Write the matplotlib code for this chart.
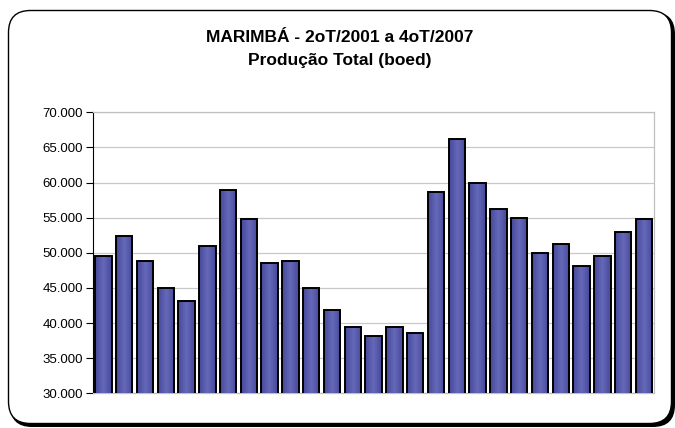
import numpy as np
import matplotlib
matplotlib.use("Agg")
from matplotlib import pyplot as plt
from matplotlib.patches import FancyBboxPatch
from matplotlib.colors import LinearSegmentedColormap
from matplotlib.ticker import FuncFormatter

# producao trimestral total, 2oT/2001 a 4oT/2007 (boed)
trimestres = ["2T01", "3T01", "4T01",
              "1T02", "2T02", "3T02", "4T02",
              "1T03", "2T03", "3T03", "4T03",
              "1T04", "2T04", "3T04", "4T04",
              "1T05", "2T05", "3T05", "4T05",
              "1T06", "2T06", "3T06", "4T06",
              "1T07", "2T07", "3T07", "4T07"]
producao = [49500, 52400, 48800, 45000, 43100, 51000, 59000, 54800, 48600,
            48800, 45000, 41900, 39500, 38100, 39500, 38600, 58600, 66200,
            60000, 56200, 55000, 50000, 51200, 48100, 49500, 52900, 54800]
yticks = [30000, 35000, 40000, 45000, 50000, 55000, 60000, 65000, 70000]


def main():
    plt.rcParams['font.family'] = ['Liberation Sans', 'DejaVu Sans']
    W, H = 675.0, 428.0
    fig = plt.figure(figsize=(W / 100, H / 100), dpi=100)

    # eixo de fundo em pixels, para a moldura arredondada
    bg = fig.add_axes([0, 0, 1, 1])
    bg.set_xlim(0, W)
    bg.set_ylim(H, 0)
    bg.axis('off')
    shadow = FancyBboxPatch((10, 12), 665, 415, boxstyle="round,pad=0,rounding_size=22",
                            facecolor='black', edgecolor='black', lw=0)
    frame = FancyBboxPatch((8.5, 10.5), 663, 413, boxstyle="round,pad=0,rounding_size=22",
                           facecolor='white', edgecolor='black', lw=1.0)
    bg.add_patch(shadow)
    bg.add_patch(frame)

    ax = fig.add_axes([93 / W, 1 - 393.3 / H, (654.3 - 93) / W, (393.3 - 112.3) / H])
    ax.patch.set_alpha(0)

    x = np.arange(len(producao))
    bars = ax.bar(x, producao, width=0.79, color='#5557a8',
                  edgecolor='black', linewidth=1.4, zorder=3)

    # leve degradê horizontal em cada barra
    cmap = LinearSegmentedColormap.from_list("barra", ['#45479a', '#6668b8', '#45479a'])
    grad = np.linspace(0, 1, 64).reshape(1, -1)
    for b in bars:
        x0, y0 = b.get_x(), b.get_y()
        im = ax.imshow(grad, cmap=cmap, aspect='auto', zorder=3.5,
                       extent=[x0, x0 + b.get_width(), 30000, y0 + b.get_height()])
        im.set_clip_path(b)
    for b in bars:
        b.set_facecolor('none')
        b.set_zorder(4)

    ax.set_xlim(-0.5, len(producao) - 0.5)
    ax.set_ylim(30000, 70000)
    ax.set_yticks(yticks)
    ax.yaxis.set_major_formatter(FuncFormatter(lambda v, p: f"{int(v):,}".replace(",", ".")))
    ax.set_xticks([])
    ax.tick_params(axis='y', direction='out', length=5, width=0.8, labelsize=9.5,
                   colors='black', pad=2)
    ax.grid(axis='y', color='#c8c8c8', linewidth=0.9, zorder=0)

    ax.spines['left'].set_color('black')
    ax.spines['left'].set_linewidth(0.8)
    for s in ['top', 'right', 'bottom']:
        ax.spines[s].set_color('#c0c0c0')
        ax.spines[s].set_linewidth(0.9)

    fig.text(340 / W, 1 - 37 / H, "MARIMBÁ - 2oT/2001 a 4oT/2007", ha='center', va='center',
             fontsize=12.5, fontweight='bold')
    fig.text(340 / W, 1 - 60 / H, "Produção Total (boed)", ha='center', va='center',
             fontsize=12.5, fontweight='bold')

    fig.savefig("out.png", dpi=100)


if __name__ == "__main__":
    main()
